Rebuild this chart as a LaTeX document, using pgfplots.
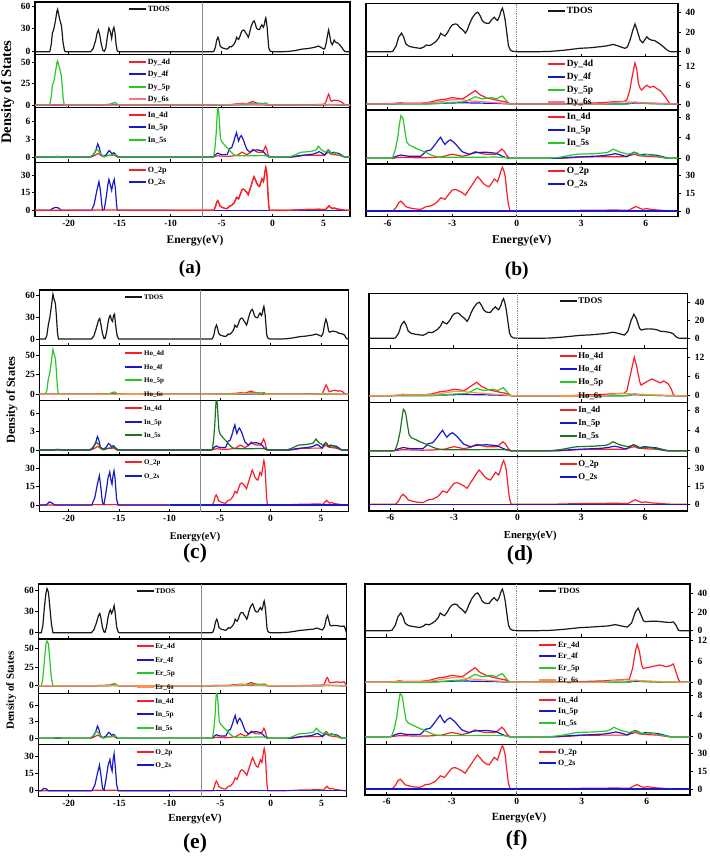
\documentclass[border=0pt]{standalone}
\usepackage{fontspec}
\setmainfont{Liberation Serif}
\usepackage{pgfplots}
\usepackage{pgfplotstable}
\pgfplotsset{compat=1.18}

\definecolor{cT}{RGB}{25,25,25}
\definecolor{cR}{RGB}{250,30,40}
\definecolor{cB}{RGB}{25,25,200}
\definecolor{cG}{RGB}{40,200,40}
\definecolor{cGd}{RGB}{30,115,30}
\definecolor{cP}{RGB}{255,110,130}
\definecolor{cO}{RGB}{255,145,80}
\definecolor{cV}{RGB}{125,140,155}

% ---------------- TDOS ----------------
\pgfplotstableread[row sep=\\]{x y\\ -10 0\\ -5.85 0\\ -5.75 0.5\\ -5.6 6\\ -5.48 15\\ -5.35 19\\ -5.25 15\\ -5.15 8\\ -5.0 5.5\\ -4.8 4.5\\ -4.6 3.8\\ -4.46 3.4\\ -4.3 5\\ -4.2 6.9\\ -4.04 6.3\\ -3.9 8\\ -3.76 10.3\\ -3.62 14\\ -3.53 18.9\\ -3.42 17\\ -3.33 16.1\\ -3.2 20\\ -3.08 25\\ -2.99 27.4\\ -2.85 28.5\\ -2.76 28\\ -2.65 25\\ -2.53 22.9\\ -2.45 21\\ -2.38 19\\ -2.3 22\\ -2.2 28\\ -2.07 34.3\\ -1.92 39\\ -1.8 40.5\\ -1.7 37\\ -1.6 32\\ -1.5 29.8\\ -1.38 29\\ -1.27 29.3\\ -1.15 33\\ -1.04 35.3\\ -0.95 33\\ -0.89 32\\ -0.8 36\\ -0.72 42\\ -0.66 44.5\\ -0.6 40\\ -0.53 32\\ -0.45 18\\ -0.38 6\\ -0.3 2\\ -0.2 0.5\\ 0 0\\ 0.3 0\\}\TvalS
\pgfplotstableread[row sep=\\]{x y\\ 0.3 0\\ 1.0 0\\ 1.55 0.3\\ 2.2 1.5\\ 2.94 3.5\\ 3.4 4.0\\ 3.88 5.1\\ 4.2 6\\ 4.49 7.5\\ 4.7 6\\ 5.04 3.4\\ 5.15 5\\ 5.27 11.8\\ 5.4 22\\ 5.5 28.4\\ 5.6 22\\ 5.74 11.8\\ 5.86 9.1\\ 5.95 12\\ 6.05 15.3\\ 6.15 13\\ 6.28 11.8\\ 6.4 11.5\\ 6.51 10.1\\ 6.65 8\\ 6.82 5.1\\ 6.95 2.5\\ 7.1 0.3\\ 7.2 0\\ 8.5 0\\}\TconDy
\pgfplotstableread[row sep=\\]{x y\\ 0.3 0\\ 1.0 0\\ 1.55 0.3\\ 2.2 1.5\\ 2.94 3.3\\ 3.4 3.8\\ 3.88 4.8\\ 4.2 5.5\\ 4.49 6.8\\ 4.7 5.8\\ 5.04 3.6\\ 5.2 8\\ 5.35 20\\ 5.48 27\\ 5.6 22\\ 5.75 11\\ 5.84 9.3\\ 6.0 10.3\\ 6.18 10.6\\ 6.4 10.3\\ 6.57 9.5\\ 6.73 8\\ 6.9 7.6\\ 7.1 7\\ 7.25 6\\ 7.34 5\\ 7.45 2\\ 7.57 0.3\\ 7.7 0\\ 8.5 0\\}\TconHo
\pgfplotstableread[row sep=\\]{x y\\ 0.3 0\\ 1.0 0\\ 1.55 0.3\\ 2.2 1.5\\ 2.94 3.3\\ 3.4 3.8\\ 3.88 4.6\\ 4.2 5\\ 4.55 6.5\\ 4.8 5.2\\ 5.1 3.8\\ 5.3 8\\ 5.48 20\\ 5.61 24\\ 5.72 18\\ 5.85 10.5\\ 5.95 9.6\\ 6.23 10.2\\ 6.5 10\\ 6.69 9.6\\ 6.9 9\\ 7.08 8.8\\ 7.23 9.4\\ 7.35 6\\ 7.46 0.5\\ 7.54 0\\ 8.5 0\\}\TconEr
\pgfplotstableread[row sep=\\]{x y\\ -24 0\\ -21.85 0\\ -21.7 10\\ -21.6 24\\ -21.45 30\\ -21.3 40\\ -21.15 53\\ -21.08 55.6\\ -20.95 47\\ -20.85 41\\ -20.7 34\\ -20.55 12\\ -20.4 1\\ -20.3 0\\ -17.85 0\\ -17.6 4\\ -17.35 15\\ -17.2 25\\ -17.08 28.5\\ -16.95 22\\ -16.8 10\\ -16.65 2\\ -16.5 0.5\\ -16.35 5\\ -16.2 20\\ -16.05 31\\ -15.9 26\\ -15.78 17.6\\ -15.66 28\\ -15.56 32\\ -15.45 25\\ -15.35 10\\ -15.23 1\\ -15.1 0\\ -10 0\\}\TdeepDy
\pgfplotstableread[row sep=\\]{x y\\ -24 0\\ -22.3 0\\ -22.15 5\\ -22.0 20\\ -21.85 30\\ -21.7 45\\ -21.55 61\\ -21.45 55\\ -21.3 48\\ -21.2 30\\ -21.1 8\\ -21.0 0\\ -17.75 0\\ -17.5 4\\ -17.25 15\\ -17.05 25\\ -16.92 28\\ -16.8 20\\ -16.65 8\\ -16.5 1\\ -16.4 0.5\\ -16.25 8\\ -16.1 22\\ -15.95 31\\ -15.87 32\\ -15.75 26\\ -15.65 24\\ -15.55 32\\ -15.45 34\\ -15.35 20\\ -15.2 5\\ -15.05 0\\ -10 0\\}\TdeepHo
\pgfplotstableread[row sep=\\]{x y\\ -24 0\\ -22.7 0\\ -22.55 10\\ -22.4 35\\ -22.25 55\\ -22.14 62\\ -22.0 57\\ -21.85 35\\ -21.7 12\\ -21.55 0\\ -17.75 0\\ -17.5 4\\ -17.25 14\\ -17.05 24\\ -16.92 27\\ -16.8 20\\ -16.65 7\\ -16.5 1\\ -16.4 0.5\\ -16.25 8\\ -16.1 22\\ -15.95 30\\ -15.87 32\\ -15.75 27\\ -15.65 30\\ -15.5 38\\ -15.4 28\\ -15.25 8\\ -15.1 1\\ -15.0 0\\ -10 0\\}\TdeepEr

% ---------------- Ln (Dy/Ho/Er) ----------------
\pgfplotstableread[row sep=\\]{x y\\ -24 0\\ -21.85 0\\ -21.7 10\\ -21.6 23\\ -21.45 28\\ -21.3 38\\ -21.15 50\\ -21.08 52\\ -20.95 46\\ -20.85 42\\ -20.7 33\\ -20.55 10\\ -20.45 1\\ -20.35 0\\ -17.5 0\\ -16.5 0.3\\ -16 0.8\\ -15.7 2\\ -15.5 3\\ -15.35 2.5\\ -15.2 0.5\\ -15.0 0\\ -10 0\\}\LpDeepDy
\pgfplotstableread[row sep=\\]{x y\\ -24 0\\ -22.3 0\\ -22.15 5\\ -22.0 20\\ -21.85 28\\ -21.7 43\\ -21.55 57\\ -21.45 52\\ -21.3 45\\ -21.2 28\\ -21.1 7\\ -21.0 0\\ -17.5 0\\ -16.5 0.3\\ -16 0.8\\ -15.7 2\\ -15.5 3\\ -15.35 2.5\\ -15.2 0.5\\ -15.0 0\\ -10 0\\}\LpDeepHo
\pgfplotstableread[row sep=\\]{x y\\ -24 0\\ -22.7 0\\ -22.55 10\\ -22.4 33\\ -22.25 55\\ -22.14 60\\ -22.0 56\\ -21.85 33\\ -21.7 10\\ -21.55 0\\ -17.5 0\\ -16.5 0.3\\ -16 0.8\\ -15.7 2\\ -15.5 3\\ -15.35 2.5\\ -15.2 0.5\\ -15.0 0\\ -10 0\\}\LpDeepEr
\pgfplotstableread[row sep=\\]{x y\\ -10 0\\ -4 0\\ -3.5 0.2\\ -3.0 0.5\\ -2.38 0.7\\ -2.15 1.5\\ -1.92 2.3\\ -1.75 1.9\\ -1.6 1.6\\ -1.4 1.8\\ -1.15 2.0\\ -0.92 1.6\\ -0.78 2.2\\ -0.66 2.5\\ -0.55 1.6\\ -0.43 0.7\\ -0.3 0\\ 5.2 0\\ 5.5 0.6\\ 5.8 0.2\\ 6.2 0.1\\ 7 0\\ 8.5 0\\}\LpVal
\pgfplotstableread[row sep=\\]{x y\\ -24 0\\ -17.2 0\\ -16.8 0.3\\ -16.2 0.5\\ -15.6 1\\ -15.3 0.3\\ -15 0\\ -10 0\\}\LdDeep
\pgfplotstableread[row sep=\\]{x y\\ -10 0\\ -5.9 0\\ -5.6 0.2\\ -5.4 0.45\\ -5.2 0.2\\ -4.5 0.2\\ -4.0 0.6\\ -3.68 1.2\\ -3.3 1.5\\ -2.99 2.0\\ -2.75 1.8\\ -2.53 1.6\\ -2.38 2.1\\ -2.2 3.0\\ -1.92 4.2\\ -1.7 2.9\\ -1.39 1.9\\ -1.0 1.3\\ -0.7 0.9\\ -0.53 0.7\\ -0.38 0.2\\ -0.3 0\\ 0.3 0\\}\LdVal
\pgfplotstableread[row sep=\\]{x y\\ 0.3 0\\ 2.5 0\\ 3.0 0.2\\ 4.0 0.4\\ 4.5 0.7\\ 5.0 0.8\\ 5.12 1.3\\ 5.25 4\\ 5.38 9\\ 5.5 12.9\\ 5.58 11\\ 5.66 6.5\\ 5.75 4.8\\ 5.82 4.4\\ 5.92 5.2\\ 6.05 5.9\\ 6.2 5.2\\ 6.36 5.6\\ 6.5 4.9\\ 6.67 4.2\\ 6.9 2.3\\ 7.1 0.2\\ 7.2 0\\ 8.5 0\\}\LdConDy
\pgfplotstableread[row sep=\\]{x y\\ 0.3 0\\ 2.5 0\\ 3.0 0.2\\ 4.0 0.4\\ 4.5 0.6\\ 5.0 0.7\\ 5.15 1.5\\ 5.3 6\\ 5.5 12\\ 5.62 9\\ 5.75 4.5\\ 5.82 3.3\\ 6.0 4.0\\ 6.2 4.8\\ 6.34 5.2\\ 6.5 4.7\\ 6.73 4.0\\ 6.89 4.6\\ 7.1 3.7\\ 7.25 2\\ 7.34 0.3\\ 7.45 0\\ 8.5 0\\}\LdConHo
\pgfplotstableread[row sep=\\]{x y\\ 0.3 0\\ 2.5 0\\ 3.0 0.2\\ 4.0 0.4\\ 4.5 0.6\\ 5.0 0.8\\ 5.2 0.9\\ 5.35 4\\ 5.48 9\\ 5.56 11\\ 5.66 9\\ 5.77 5\\ 5.84 4.0\\ 6.0 4.2\\ 6.3 4.6\\ 6.6 5.0\\ 6.9 4.5\\ 7.1 4.8\\ 7.23 5.3\\ 7.35 3\\ 7.46 1\\ 7.54 0\\ 8.5 0\\}\LdConEr
\pgfplotstableread[row sep=\\]{x y\\ -24 0\\ -16 0\\ -15.6 0.5\\ -15.3 0.2\\ -15 0\\ -6 0\\ -4 0.1\\ -3 0.3\\ -2.5 0.4\\ -2 0.3\\ -1 0.2\\ -0.3 0\\ 5 0\\ 5.5 0.3\\ 6 0.2\\ 7 0\\ 8.5 0\\}\Lf
\pgfplotstableread[row sep=\\]{x y\\ -24 0\\ -6 0\\ -5.5 0.3\\ -5 0.2\\ -4 0.3\\ -3.5 0.8\\ -3 1.3\\ -2.6 1.4\\ -2.2 1.0\\ -1.8 0.8\\ -1.2 0.5\\ -0.6 0.2\\ -0.3 0\\ 4.0 0\\ 4.5 0.5\\ 5.0 0.7\\ 5.5 0.5\\ 6.0 0.4\\ 7 0.1\\ 7.5 0\\ 8.5 0\\}\Ls

% ---------------- In ----------------
\pgfplotstableread[row sep=\\]{x y\\ -24 0\\ -21.5 0\\ -21.2 0.1\\ -20.9 0.1\\ -20.6 0\\ -17.8 0\\ -17.4 0.3\\ -17.1 0.6\\ -16.8 0.2\\ -16.5 0.05\\ -16.1 0.3\\ -15.8 0.25\\ -15.55 0.35\\ -15.3 0.1\\ -15.1 0\\ -10 0\\}\IndDeep
\pgfplotstableread[row sep=\\]{x y\\ -24 0\\ -17.9 0\\ -17.6 0.3\\ -17.35 1.0\\ -17.15 2.2\\ -17.0 1.6\\ -16.85 0.5\\ -16.6 0.1\\ -16.3 0.4\\ -16.05 1.06\\ -15.9 0.9\\ -15.75 0.5\\ -15.6 0.7\\ -15.5 0.65\\ -15.35 0.3\\ -15.2 0\\ -10 0\\}\InpDeep
\pgfplotstableread[row sep=\\]{x y\\ -24 0\\ -21.5 0\\ -21.2 0.1\\ -20.9 0.05\\ -20.6 0\\ -17.9 0\\ -17.6 0.4\\ -17.35 1.1\\ -17.2 1.2\\ -17.0 0.9\\ -16.8 0.3\\ -16.6 0.05\\ -16.2 0.2\\ -15.8 0.35\\ -15.5 0.45\\ -15.3 0.3\\ -15.1 0\\ -10 0\\}\InsDeep
\pgfplotstableread[row sep=\\]{x y\\ -10 0\\ -5.85 0\\ -5.77 0.1\\ -5.65 1.5\\ -5.53 3.9\\ -5.45 6.5\\ -5.38 8.3\\ -5.32 8.0\\ -5.27 7.5\\ -5.2 5.5\\ -5.11 3.2\\ -5.0 2.6\\ -4.84 2.3\\ -4.6 1.8\\ -4.3 1.3\\ -4.0 0.7\\ -3.76 0.35\\ -3.5 0.2\\ -2.0 0.2\\ -1.0 0.25\\ -0.6 0.2\\ -0.3 0\\ 1.5 0\\ 2.0 0.2\\ 2.5 0.6\\ 2.79 0.8\\ 3.56 0.9\\ 4.19 1.1\\ 4.35 1.4\\ 4.49 1.8\\ 4.65 1.5\\ 4.8 1.2\\ 5.19 0.8\\ 5.35 1.0\\ 5.5 1.1\\ 5.65 0.8\\ 5.82 0.5\\ 6.05 0.7\\ 6.3 0.6\\ 6.51 0.4\\ 6.8 0.2\\ 7.05 0\\ 8.5 0\\}\InsVal
\pgfplotstableread[row sep=\\]{x y\\ -10 0\\ -5.8 0\\ -5.6 0.4\\ -5.38 0.65\\ -5.2 0.5\\ -5.0 0.4\\ -4.46 0.4\\ -4.3 1.0\\ -4.22 1.4\\ -4.0 1.6\\ -3.8 2.6\\ -3.65 3.5\\ -3.53 4.1\\ -3.43 3.3\\ -3.33 2.7\\ -3.2 3.3\\ -3.07 3.6\\ -2.95 3.2\\ -2.84 2.8\\ -2.7 2.1\\ -2.53 1.3\\ -2.22 0.8\\ -1.92 1.1\\ -1.46 1.2\\ -1.2 1.1\\ -1.0 1.0\\ -0.8 0.7\\ -0.66 0.4\\ -0.45 0.1\\ -0.35 0\\ 1.8 0\\ 2.5 0.2\\ 3.0 0.3\\ 3.56 0.4\\ 4.0 0.5\\ 4.34 0.7\\ 4.57 0.9\\ 4.8 0.7\\ 5.12 0.3\\ 5.3 0.8\\ 5.45 1.2\\ 5.6 1.0\\ 5.74 0.6\\ 5.97 0.8\\ 6.2 0.7\\ 6.51 0.6\\ 6.8 0.3\\ 6.97 0.1\\ 7.1 0\\ 8.5 0\\}\InpVal
\pgfplotstableread[row sep=\\]{x y\\ -10 0\\ -5.9 0\\ -5.6 0.1\\ -5.4 0.2\\ -4.5 0.1\\ -4.0 0.15\\ -3.45 0.3\\ -3.2 0.6\\ -2.99 0.8\\ -2.75 0.6\\ -2.53 0.4\\ -2.2 0.7\\ -1.92 1.3\\ -1.7 1.0\\ -1.46 0.8\\ -1.0 0.8\\ -0.85 1.2\\ -0.69 1.8\\ -0.58 1.4\\ -0.45 0.5\\ -0.32 0\\ 2.0 0\\ 2.5 0.1\\ 3.0 0.25\\ 4.0 0.3\\ 5.0 0.3\\ 5.3 0.6\\ 5.5 0.8\\ 5.7 0.5\\ 6.0 0.4\\ 6.5 0.3\\ 7.0 0\\ 8.5 0\\}\IndVal

% ---------------- O ----------------
\pgfplotstableread[row sep=\\]{x y\\ -24 0\\ -17.8 0\\ -17.5 0.3\\ -15.3 0.3\\ -15 0\\ -10 0\\}\OpDeep
\pgfplotstableread[row sep=\\]{x y\\ -10 0\\ -5.75 0\\ -5.6 3\\ -5.48 7\\ -5.38 8.3\\ -5.25 6\\ -5.15 3.6\\ -4.9 2.3\\ -4.69 1.7\\ -4.46 1.4\\ -4.3 2.8\\ -4.22 3.6\\ -4.0 4.2\\ -3.76 6.4\\ -3.62 9\\ -3.53 11.1\\ -3.43 10.5\\ -3.33 9.7\\ -3.15 14\\ -2.99 17.5\\ -2.85 18\\ -2.76 17.5\\ -2.53 15.3\\ -2.38 13.3\\ -2.25 17\\ -2.07 21.7\\ -1.92 26\\ -1.81 28.6\\ -1.68 26\\ -1.55 23\\ -1.4 21\\ -1.27 20.3\\ -1.15 23.5\\ -1.04 26.7\\ -0.89 24.4\\ -0.8 29\\ -0.72 34\\ -0.66 36.4\\ -0.6 34\\ -0.53 28.6\\ -0.45 15\\ -0.38 5\\ -0.3 0\\ 1.5 0\\ 2.5 0.4\\ 3.0 0.6\\ 4.0 0.7\\ 4.5 0.9\\ 5.2 0.6\\ 5.4 2.5\\ 5.55 3.8\\ 5.7 2.5\\ 5.85 1.5\\ 6.05 2.0\\ 6.3 1.2\\ 7.0 0.3\\ 7.3 0\\ 8.5 0\\}\OpVal
\pgfplotstableread[row sep=\\]{x y\\ -10 0\\ 8.5 0\\}\OsVal
\pgfplotstableread[row sep=\\]{x y\\ -24 0\\ -21.8 0\\ -21.6 1.5\\ -21.3 2.5\\ -21.0 2.0\\ -20.8 0.5\\ -20.7 0\\ -17.75 0\\ -17.5 5\\ -17.25 16\\ -17.03 24.3\\ -16.9 18\\ -16.75 5\\ -16.67 0\\ -16.5 1\\ -16.3 12\\ -16.15 22\\ -16.05 26.3\\ -15.95 23\\ -15.78 17\\ -15.65 23\\ -15.53 26.3\\ -15.4 17\\ -15.3 5\\ -15.23 0\\ -10 0\\}\OsDeepDy
\pgfplotstableread[row sep=\\]{x y\\ -24 0\\ -22.2 0\\ -21.9 2.5\\ -21.6 1.5\\ -21.4 0\\ -17.7 0\\ -17.4 6\\ -17.15 17\\ -16.95 24\\ -16.8 14\\ -16.65 2\\ -16.5 0.5\\ -16.3 10\\ -16.1 22\\ -15.92 27\\ -15.8 20\\ -15.7 17\\ -15.6 24\\ -15.5 28\\ -15.4 22\\ -15.25 5\\ -15.1 0\\ -10 0\\}\OsDeepHo
\pgfplotstableread[row sep=\\]{x y\\ -24 0\\ -22.7 0\\ -22.45 2\\ -22.2 1.5\\ -22.0 0\\ -17.7 0\\ -17.4 5\\ -17.15 15\\ -16.95 22\\ -16.8 13\\ -16.65 2\\ -16.5 0.5\\ -16.3 10\\ -16.1 22\\ -15.92 27\\ -15.8 20\\ -15.7 17\\ -15.6 27\\ -15.5 32\\ -15.4 22\\ -15.25 5\\ -15.1 0\\ -10 0\\}\OsDeepEr

% ---------------- plot groups (first piece of each curve carries the legend) ----------------
\newcommand{\TDOSplots}[2]{%
  \addplot[cT] table {#1};\addlegendentry{TDOS}
  \addplot[cT,forget plot] table {\TvalS};
  \addplot[cT,forget plot] table {#2};
}
\newcommand{\Lplots}[4]{%
  \addplot[cR] table {\LdDeep};\addlegendentry{#1\_4d}
  \addplot[cR,forget plot] table {\LdVal};
  \addplot[cR,forget plot] table {#2};
  \addplot[cB] table {\Lf};\addlegendentry{#1\_4f}
  \addplot[cG] table {#3};\addlegendentry{#1\_5p}
  \addplot[cG,forget plot] table {\LpVal};
  \addplot[#4] table {\Ls};\addlegendentry{#1\_6s}
}
\newcommand{\Inplots}[1]{%
  \addplot[cR] table {\IndDeep};\addlegendentry{In\_4d}
  \addplot[cR,forget plot] table {\IndVal};
  \addplot[cB] table {\InpDeep};\addlegendentry{In\_5p}
  \addplot[cB,forget plot] table {\InpVal};
  \addplot[#1] table {\InsDeep};\addlegendentry{In\_5s}
  \addplot[#1,forget plot] table {\InsVal};
}
\newcommand{\OplotsRedTop}[1]{%
  \addplot[cR] table {\OpVal};\addlegendentry{O\_2p}
  \addplot[cB] table {#1};\addlegendentry{O\_2s}
  \addplot[cB,forget plot] table {\OsVal};
  \addplot[cR,forget plot] table {\OpDeep};
  \addplot[cR,forget plot] table {\OpVal};
}
\newcommand{\OplotsBlueTop}[1]{%
  \addplot[cR] table {\OpDeep};\addlegendentry{O\_2p}
  \addplot[cR,forget plot] table {\OpVal};
  \addplot[cB] table {#1};\addlegendentry{O\_2s}
  \addplot[cB,forget plot] table {\OsVal};
}
\newcommand{\VL}{\draw[cV,line width=0.9pt] ({axis cs:-6.9,0}|-{rel axis cs:0,0}) -- ({axis cs:-6.9,0}|-{rel axis cs:0,1});}
\newcommand{\ZL}{\draw[cV,line width=0.8pt,densely dotted] ({axis cs:0,0}|-{rel axis cs:0,0}) -- ({axis cs:0,0}|-{rel axis cs:0,1});}

\pgfplotsset{
  dos/.style={scale only axis, anchor=south west,
    axis line style={line width=1.1pt, black},
    tick align=inside, major tick length=3pt,
    tick style={black, line width=0.8pt},
    xtick pos=left,
    tick label style={font=\bfseries\fontsize{9.5}{11}\selectfont},
    /pgf/number format/assume math mode=true,
    legend image code/.code={\draw[##1,line width=2pt] (0pt,0pt)--(17pt,0pt);},
    legend style={draw=none, fill=none, anchor=north west, inner sep=0pt,
      nodes={inner sep=0.7pt, text height=0.7em, text depth=0.2em},
      cells={anchor=west}},
    every axis plot/.append style={line width=1.2pt}},
  dosL/.style={dos, ytick pos=left, ytick style={xshift=-3pt}, yticklabel style={xshift=-1pt}},
  dosR/.style={dos, ytick pos=right, yticklabel pos=right, ytick style={xshift=3pt}, yticklabel style={xshift=4pt}},
  pa/.style={dosL, width=315pt, xmin=-23.3, xmax=7.6, xtick={-20,-15,...,5},
    legend style={at={(0.295,1)}, yshift=-2pt, font=\bfseries\fontsize{8}{9}\selectfont, row sep=2.1pt}},
  pb/.style={dosR, width=312pt, xmin=-7, xmax=7.5, xtick={-6,-3,0,3,6},
    legend style={at={(0.58,1)}, yshift=-2pt, font=\bfseries\fontsize{9.5}{10}\selectfont, row sep=2.4pt}},
  pc/.style={dosL, width=309pt, xmin=-22.9, xmax=7.7, xtick={-20,-15,...,5},
    legend style={at={(0.275,1)}, yshift=-2pt, font=\bfseries\fontsize{7}{8}\selectfont, row sep=3.2pt}},
  pd/.style={dosR, width=318.3pt, xmin=-7, xmax=8, xtick={-6,-3,0,3,6},
    legend style={at={(0.595,1)}, yshift=-2pt, font=\bfseries\fontsize{8.8}{10}\selectfont, row sep=2.9pt}},
  pe/.style={dosL, width=308.4pt, xmin=-23, xmax=7.5, xtick={-20,-15,...,5},
    legend style={at={(0.315,1)}, yshift=-2pt, font=\bfseries\fontsize{7.3}{8}\selectfont, row sep=3.1pt}},
  pf/.style={dosR, width=325pt, xmin=-7, xmax=8, xtick={-6,-3,0,3,6},
    legend style={at={(0.533,1)}, yshift=-2pt, font=\bfseries\fontsize{8}{9}\selectfont, row sep=1.4pt}},
}

\begin{document}
\begin{tikzpicture}
\useasboundingbox (0pt,0pt) rectangle (709pt,858pt);

% ===================== (a) =====================
\begin{axis}[pa, at={(35pt,803.7pt)}, height=52.3pt, ymin=-3.4, ymax=65.3, ytick={0,30,60}, xticklabels={}]
\TDOSplots{\TdeepDy}{\TconDy}\VL
\end{axis}
\begin{axis}[pa, at={(35pt,750.7pt)}, height=53pt, ymin=-2.7, ymax=59.9, ytick={0,25,50}, xticklabels={}]
\Lplots{Dy}{\LdConDy}{\LpDeepDy}{cP}\VL
\end{axis}
\begin{axis}[pa, at={(35pt,695.7pt)}, height=55pt, ymin=-0.89, ymax=8.35, ytick={0,3,6}, xticklabels={}]
\Inplots{cG}\VL
\end{axis}
\begin{axis}[pa, at={(35pt,641.3pt)}, height=54.4pt, ymin=-5.4, ymax=40.8, ytick={0,15,30}]
\OplotsRedTop{\OsDeepDy}\VL
\end{axis}

% ===================== (b) =====================
\begin{axis}[pb, at={(366pt,801.3pt)}, height=53.4pt, ymin=-5.1, ymax=49.6, ytick={0,20,40}, xticklabels={}]
\TDOSplots{\TdeepDy}{\TconDy}\ZL
\end{axis}
\begin{axis}[pb, at={(366pt,748pt)}, height=53.3pt, ymin=-1.9, ymax=14.9, ytick={0,6,12}, xticklabels={}]
\Lplots{Dy}{\LdConDy}{\LpDeepDy}{cP}\ZL
\end{axis}
\begin{axis}[pb, at={(366pt,694pt)}, height=54pt, ymin=-1.1, ymax=9.4, ytick={0,4,8}, xticklabels={}]
\Inplots{cG}\ZL
\end{axis}
\begin{axis}[pb, at={(366pt,641.3pt)}, height=52.7pt, ymin=-4.7, ymax=39.2, ytick={0,15,30}]
\OplotsBlueTop{\OsDeepDy}\ZL
\end{axis}

% ===================== (c) =====================
\begin{axis}[pc, at={(39.3pt,512.3pt)}, height=55.7pt, ymin=-9.1, ymax=66.8, ytick={0,30,60}, xticklabels={}]
\TDOSplots{\TdeepHo}{\TconHo}\VL
\end{axis}
\begin{axis}[pc, at={(39.3pt,457.3pt)}, height=55pt, ymin=-8.1, ymax=61.8, ytick={0,25,50}, xticklabels={}]
\Lplots{Ho}{\LdConHo}{\LpDeepHo}{cO}\VL
\end{axis}
\begin{axis}[pc, at={(39.3pt,403pt)}, height=54.3pt, ymin=-0.82, ymax=8.06, ytick={0,3,6}, xticklabels={}]
\Inplots{cGd}\VL
\end{axis}
\begin{axis}[pc, at={(39.3pt,346.3pt)}, height=56.7pt, ymin=-5.5, ymax=40.9, ytick={0,15,30}]
\OplotsBlueTop{\OsDeepHo}\VL
\end{axis}

% ===================== (d) =====================
\begin{axis}[pd, at={(369pt,509.7pt)}, height=55pt, ymin=-11.2, ymax=50.5, ytick={0,20,40}, xticklabels={}]
\TDOSplots{\TdeepHo}{\TconHo}\ZL
\end{axis}
\begin{axis}[pd, at={(369pt,455.7pt)}, height=54pt, ymin=-2.07, ymax=14.8, ytick={0,6,12}, xticklabels={}]
\Lplots{Ho}{\LdConHo}{\LpDeepHo}{cO}\ZL
\end{axis}
\begin{axis}[pd, at={(369pt,401.3pt)}, height=54.4pt, ymin=-1.2, ymax=9.7, ytick={0,4,8}, xticklabels={}]
\Inplots{cGd}\ZL
\end{axis}
\begin{axis}[pd, at={(369pt,347pt)}, height=54.3pt, ymin=-5.6, ymax=39.7, ytick={0,15,30}]
\OplotsBlueTop{\OsDeepHo}\ZL
\end{axis}

% ===================== (e) =====================
\begin{axis}[pe, at={(38.3pt,219pt)}, height=55pt, ymin=-8.9, ymax=68.4, ytick={0,30,60}, xticklabels={}]
\TDOSplots{\TdeepEr}{\TconEr}\VL
\end{axis}
\begin{axis}[pe, at={(38.3pt,164.7pt)}, height=54.3pt, ymin=-10.2, ymax=62.5, ytick={0,25,50}, xticklabels={}]
\Lplots{Er}{\LdConEr}{\LpDeepEr}{cO}\VL
\end{axis}
\begin{axis}[pe, at={(38.3pt,113.7pt)}, height=51pt, ymin=-1.08, ymax=8.1, ytick={0,3,6}, xticklabels={}]
\Inplots{cG}\VL
\end{axis}
\begin{axis}[pe, at={(38.3pt,61.3pt)}, height=52.4pt, ymin=-5.2, ymax=40.1, ytick={0,15,30}]
\OplotsBlueTop{\OsDeepEr}\VL
\end{axis}

% ===================== (f) =====================
\begin{axis}[pf, at={(365pt,220.7pt)}, height=53.3pt, ymin=-7.1, ymax=50, ytick={0,20,40}, xticklabels={}]
\TDOSplots{\TdeepEr}{\TconEr}\ZL
\end{axis}
\begin{axis}[pf, at={(365pt,165.7pt)}, height=55pt, ymin=-2.9, ymax=13, ytick={0,6,12}, xticklabels={}]
\Lplots{Er}{\LdConEr}{\LpDeepEr}{cO}\ZL
\end{axis}
\begin{axis}[pf, at={(365pt,113.7pt)}, height=52pt, ymin=-1.46, ymax=8.5, ytick={0,4,8}, xticklabels={}]
\Inplots{cG}\ZL
\end{axis}
\begin{axis}[pf, at={(365pt,63pt)}, height=50.7pt, ymin=-5, ymax=37.6, ytick={0,15,30}]
\OplotsBlueTop{\OsDeepEr}\ZL
\end{axis}

% ===================== labels =====================
\node[font=\bfseries\fontsize{11.5}{13}\selectfont] at (195pt,617.3pt) {Energy(eV)};
\node[font=\bfseries\fontsize{12}{13}\selectfont] at (521.7pt,617.3pt) {Energy(eV)};
\node[font=\bfseries\fontsize{10.2}{12}\selectfont] at (195pt,321.3pt) {Energy(eV)};
\node[font=\bfseries\fontsize{10.7}{12}\selectfont] at (530.3pt,322pt) {Energy(eV)};
\node[font=\bfseries\fontsize{10.8}{12}\selectfont] at (195pt,38.7pt) {Energy(eV)};
\node[font=\bfseries\fontsize{11}{12}\selectfont] at (519pt,39.7pt) {Energy(eV)};

\node[font=\bfseries\fontsize{19}{21}\selectfont] at (190pt,589pt) {(a)};
\node[font=\bfseries\fontsize{19.5}{21}\selectfont] at (516.7pt,587pt) {(b)};
\node[font=\bfseries\fontsize{21.5}{23}\selectfont] at (195pt,305pt) {(c)};
\node[font=\bfseries\fontsize{21.5}{23}\selectfont] at (520pt,303pt) {(d)};
\node[font=\bfseries\fontsize{21.5}{23}\selectfont] at (195pt,15pt) {(e)};
\node[font=\bfseries\fontsize{21.5}{23}\selectfont] at (516.7pt,18pt) {(f)};

\node[rotate=90,font=\bfseries\fontsize{14.5}{16}\selectfont] at (7.5pt,766pt) {Density of States};
\node[rotate=90,font=\bfseries\fontsize{12.2}{14}\selectfont] at (12pt,458pt) {Density of States};
\node[rotate=90,font=\bfseries\fontsize{11}{13}\selectfont] at (11.3pt,167.2pt) {Density of States};
\end{tikzpicture}
\end{document}
